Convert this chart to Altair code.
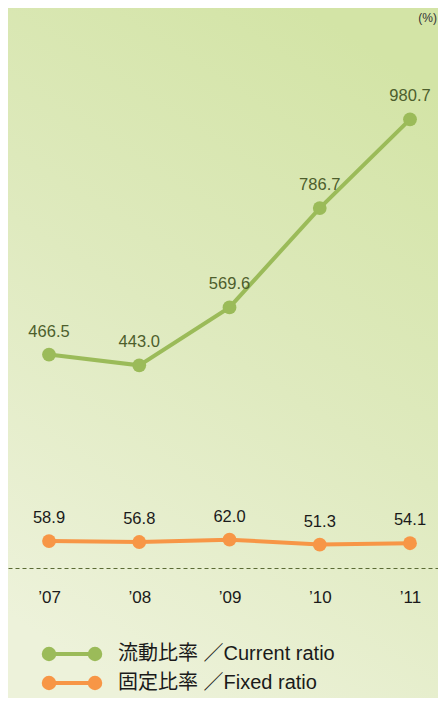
import altair as alt
import pandas as pd

years = [2007, 2008, 2009, 2010, 2011]
current_ratio = [466.5, 443.0, 569.6, 786.7, 980.7]
fixed_ratio = [58.9, 56.8, 62.0, 51.3, 54.1]
series_names = ["流動比率 ／Current ratio", "固定比率 ／Fixed ratio"]
series_values = [current_ratio, fixed_ratio]
series_colors = ["#9bbb59", "#f79646"]
label_colors = ["#4d5e2c", "#1a1a1a"]
unit_label = "(%)"

FONT = "Arial, Liberation Sans, Noto Sans CJK JP, sans-serif"
W, H = 430, 560

xscale = alt.Scale(domain=[2006.5457, 2011.3102], nice=False, zero=False)
yscale = alt.Scale(domain=[0, 1224], nice=False, zero=True)

x_enc = alt.X(
    "year:Q", scale=xscale,
    axis=alt.Axis(values=years, title=None, ticks=False, grid=False, zindex=1,
                  domainDash=[4, 3], domainColor="#5b6b35", domainWidth=1,
                  labelExpr="'\u2019' + slice(toString(datum.value), 2)",
                  labelFontSize=17, labelFont=FONT, labelColor="#1a1a1a",
                  labelPadding=21),
)

one = pd.DataFrame({"k": [0]})

bg = alt.Chart(one).mark_rect(
    color=alt.Gradient(
        gradient="linear",
        stops=[alt.GradientStop(color="#d3e4a6", offset=0),
               alt.GradientStop(color="#dfeabf", offset=0.5),
               alt.GradientStop(color="#edf2da", offset=1)],
        x1=0.7, y1=0, x2=0.3, y2=1,
    )
).encode(x=alt.value(0), x2=alt.value(W), y=alt.value(0), y2=alt.value(H + 130))

layers = [bg]
for name, vals, col, lcol in zip(series_names, series_values, series_colors, label_colors):
    df = pd.DataFrame({"year": years, "value": vals})
    base = alt.Chart(df).encode(
        x=x_enc,
        y=alt.Y("value:Q", scale=yscale, axis=None),
    )
    layers.append(base.mark_line(color=col, strokeWidth=4))
    layers.append(base.mark_circle(color=col, size=190, opacity=1))
    layers.append(base.mark_text(dy=-23, fontSize=16.5, font=FONT, color=lcol).encode(
        text=alt.Text("value:Q", format=".1f")))

# legend
for i, (name, col) in enumerate(zip(series_names, series_colors)):
    ly = 646 + 29 * i
    leg = alt.Chart(one)
    layers.append(leg.mark_rule(color=col, strokeWidth=4).encode(
        x=alt.value(41), x2=alt.value(87), y=alt.value(ly)))
    layers.append(leg.mark_circle(color=col, size=210, opacity=1).encode(
        x=alt.value(41), y=alt.value(ly)))
    layers.append(leg.mark_circle(color=col, size=210, opacity=1).encode(
        x=alt.value(87), y=alt.value(ly)))
    layers.append(leg.mark_text(align="left", baseline="middle", fontSize=20,
                                font=FONT, color="#1a1a1a").encode(
        x=alt.value(110), y=alt.value(ly), text=alt.value(name)))

layers.append(alt.Chart(one).mark_text(align="right", baseline="middle", fontSize=12,
                                       font=FONT, color="#333333").encode(
    x=alt.value(W - 1), y=alt.value(10), text=alt.value(unit_label)))

chart = alt.layer(*layers).properties(
    width=W, height=H,
    autosize=alt.AutoSizeParams(type="none"),
    padding={"left": 0, "top": 0, "right": 0, "bottom": 130},
).configure_view(stroke=None)

chart.save("out.html", embed_options={"renderer": "svg", "actions": False})
